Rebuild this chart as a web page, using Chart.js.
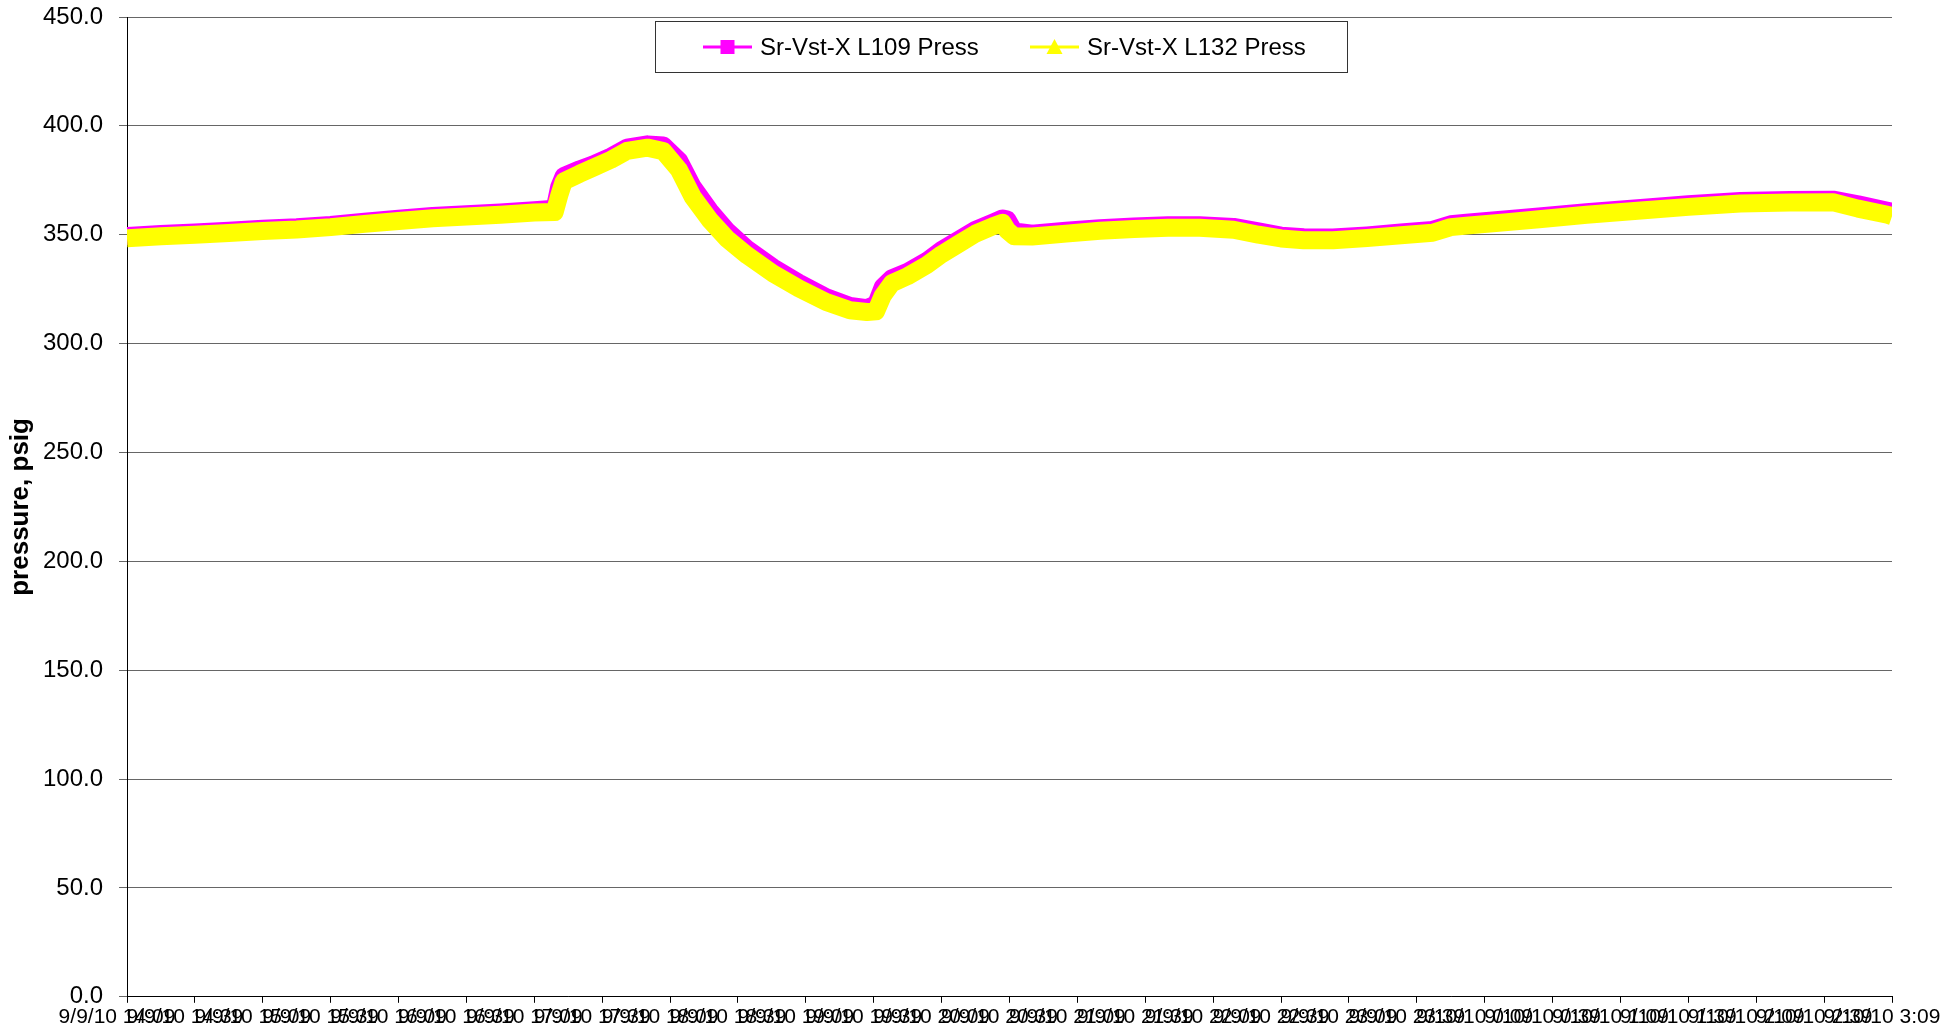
<!DOCTYPE html>
<html>
<head>
<meta charset="utf-8">
<script src="https://cdn.jsdelivr.net/npm/chart.js@4.4.1/dist/chart.umd.min.js"></script>
<style>
  html, body { margin: 0; padding: 0; background: #fff; }
  #wrap { width: 1950px; height: 1035px; }
</style>
</head>
<body>
<div id="wrap"><canvas id="press"></canvas></div>
<script>
// x tick labels, one every 30 min from 9/9/10 14:09
const timeLabels = [
    '9/9/10 14:09', '9/9/10 14:39', '9/9/10 15:09', '9/9/10 15:39', '9/9/10 16:09',
    '9/9/10 16:39', '9/9/10 17:09', '9/9/10 17:39', '9/9/10 18:09', '9/9/10 18:39',
    '9/9/10 19:09', '9/9/10 19:39', '9/9/10 20:09', '9/9/10 20:39', '9/9/10 21:09',
    '9/9/10 21:39', '9/9/10 22:09', '9/9/10 22:39', '9/9/10 23:09', '9/9/10 23:39',
    '9/10/10 0:09', '9/10/10 0:39', '9/10/10 1:09', '9/10/10 1:39', '9/10/10 2:09',
    '9/10/10 2:39', '9/10/10 3:09'
];

// minutes after 14:09
const minutes = [
    0, 15, 30, 45, 60, 75, 90, 105, 120, 135, 150, 165, 180, 189, 191, 193, 200, 206, 214, 221,
    230, 237, 244, 250, 257.6, 265, 274, 285.5, 297, 309, 319.5, 327, 331, 334, 338, 345, 353.5, 360, 368, 375,
    382.7, 387, 389, 392, 400, 415, 430, 445, 460, 474, 489, 500, 510, 520, 533, 548, 563, 577, 585, 592,
    610, 624, 645, 669, 690, 713, 735, 754, 765, 778, 780
];

const l109 = [
    349.4, 350.3, 351.0, 351.8, 352.7, 353.4, 354.5, 356.0, 357.3, 358.6, 359.4, 360.2, 361.2, 362.0, 372.0, 377.0, 380.0, 382.3, 386.0, 390.0,
    391.5, 391.0, 384.0, 372.0, 361.0, 352.0, 343.5, 335.0, 327.8, 321.3, 317.3, 316.3, 318.0, 326.0, 330.0, 333.0, 338.0, 343.0, 348.0, 352.3,
    355.6, 357.5, 357.0, 351.5, 350.5, 351.8, 353.0, 353.8, 354.4, 354.4, 353.6, 351.5, 349.6, 348.8, 348.7, 349.7, 351.0, 352.2, 354.8, 355.5,
    357.1, 358.4, 360.4, 362.3, 364.0, 365.5, 366.0, 366.1, 364.0, 361.0, 360.5
];

const l132 = [
    348.4, 349.3, 350.0, 350.8, 351.7, 352.4, 353.5, 355.0, 356.3, 357.6, 358.4, 359.2, 360.2, 360.4, 368.0, 374.5, 378.0, 380.8, 384.5, 388.5,
    390.0, 388.4, 379.7, 367.4, 356.7, 348.3, 340.6, 332.2, 325.3, 319.1, 315.3, 314.5, 314.8, 322.0, 327.7, 331.0, 336.1, 341.0, 346.1, 350.5,
    353.9, 355.5, 352.0, 349.3, 349.2, 350.5, 351.8, 352.6, 353.2, 353.2, 352.3, 350.0, 348.3, 347.5, 347.5, 348.5, 349.8, 350.9, 353.5, 354.2,
    355.8, 357.1, 359.2, 361.1, 362.8, 364.3, 364.8, 364.9, 362.0, 359.2, 358.5
];

const yTicks = [0, 50, 100, 150, 200, 250, 300, 350, 400, 450];

const seriesNames = ['Sr-Vst-X L109 Press', 'Sr-Vst-X L132 Press'];
const seriesColors = ['#ff00ff', '#ffff00'];

const FONT = "'Liberation Sans', Arial, sans-serif";

function points(vals) {
    return minutes.map((m, i) => ({ x: m, y: vals[i] }));
}

// boxed legend with line + marker, like the original
const boxLegend = {
    id: 'boxLegend',
    afterDraw(chart) {
        const c = chart.ctx;
        c.save();
        c.fillStyle = '#fff';
        c.fillRect(655, 21, 692, 51);
        c.strokeStyle = '#333';
        c.lineWidth = 1;
        c.strokeRect(655.5, 21.5, 692, 51);

        const items = [
            { x: 703, text: seriesNames[0], color: seriesColors[0], marker: 'rect' },
            { x: 1030, text: seriesNames[1], color: seriesColors[1], marker: 'tri' }
        ];
        const cy = 47;
        items.forEach(it => {
            c.strokeStyle = it.color;
            c.lineWidth = 3;
            c.beginPath();
            c.moveTo(it.x, cy);
            c.lineTo(it.x + 49, cy);
            c.stroke();
            c.fillStyle = it.color;
            const mx = it.x + 24.5;
            if (it.marker === 'rect') {
                c.fillRect(mx - 7, cy - 7, 14, 14);
            } else {
                c.beginPath();
                c.moveTo(mx, cy - 8);
                c.lineTo(mx + 8, cy + 7);
                c.lineTo(mx - 8, cy + 7);
                c.closePath();
                c.fill();
            }
            c.fillStyle = '#000';
            c.font = '24px ' + FONT;
            c.textBaseline = 'middle';
            c.textAlign = 'left';
            c.fillText(it.text, it.x + 57, cy + 1);
        });
        c.restore();
    }
};

new Chart(document.getElementById('press'), {
    type: 'line',
    data: {
        datasets: [
            {
                label: seriesNames[0],
                data: points(l109),
                borderColor: seriesColors[0],
                backgroundColor: seriesColors[0],
                borderWidth: 18,
                pointRadius: 0,
                tension: 0,
                borderJoinStyle: 'round',
                order: 2
            },
            {
                label: seriesNames[1],
                data: points(l132),
                borderColor: seriesColors[1],
                backgroundColor: seriesColors[1],
                borderWidth: 18,
                pointRadius: 0,
                tension: 0,
                borderJoinStyle: 'round',
                order: 1
            }
        ]
    },
    options: {
        responsive: true,
        maintainAspectRatio: false,
        animation: false,
        layout: {
            autoPadding: false,
            padding: { left: 0, right: 58, top: 17, bottom: 3 }
        },
        plugins: {
            legend: { display: false },
            tooltip: { enabled: false }
        },
        scales: {
            x: {
                type: 'linear',
                min: 0,
                max: 780,
                afterBuildTicks(scale) {
                    scale.ticks = timeLabels.map((t, i) => ({ value: i * 30 }));
                },
                afterFit(scale) {
                    // let the last label hang over the right margin
                    scale.paddingLeft = 0;
                    scale.paddingRight = 0;
                },
                ticks: {
                    autoSkip: false,
                    maxRotation: 0,
                    minRotation: 0,
                    padding: 2,
                    labelOffset: -10,
                    color: '#000',
                    font: { family: FONT, size: 21 },
                    callback: (v) => timeLabels[Math.round(v / 30)]
                },
                grid: {
                    drawOnChartArea: false,
                    drawTicks: true,
                    tickLength: 6,
                    color: '#000'
                },
                border: { display: true, color: '#000', width: 1 }
            },
            y: {
                min: 0,
                max: 450,
                afterBuildTicks(scale) {
                    scale.ticks = yTicks.map(v => ({ value: v }));
                },
                afterFit(scale) {
                    scale.width = 127;
                    scale.paddingTop = 0;
                    scale.paddingBottom = 0;
                },
                ticks: {
                    padding: 16,
                    color: '#000',
                    font: { family: FONT, size: 24 },
                    callback: (v) => v.toFixed(1)
                },
                grid: {
                    color: '#666',
                    lineWidth: 1,
                    drawTicks: true,
                    tickLength: 8
                },
                border: { display: true, color: '#000', width: 1 },
                title: {
                    display: true,
                    text: 'pressure, psig',
                    color: '#000',
                    font: { family: FONT, size: 26, weight: 'bold' },
                    padding: { top: 5, bottom: 0 }
                }
            }
        }
    },
    plugins: [boxLegend]
});
</script>
</body>
</html>
